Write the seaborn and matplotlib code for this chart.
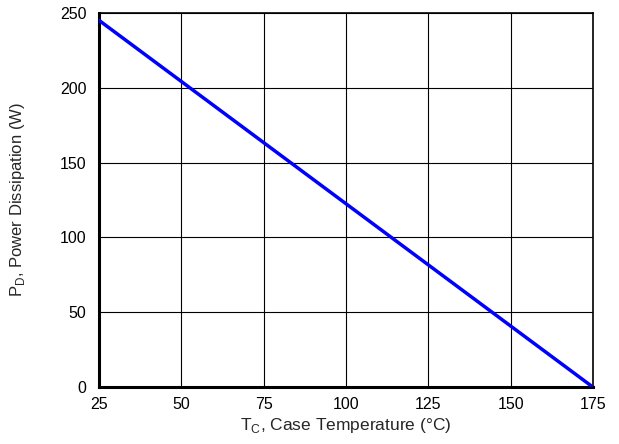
import matplotlib
matplotlib.use("Agg")
import matplotlib.pyplot as plt
import seaborn as sns
import pandas as pd

# power derating curve: dissipation vs case temperature
case_temp = [25, 175]
power_w = [245, 0]
x_ticks = [25, 50, 75, 100, 125, 150, 175]
y_ticks = [0, 50, 100, 150, 200, 250]

sns.set_style("white")
plt.rcParams["font.family"] = ["Liberation Sans", "DejaVu Sans"]
plt.rcParams["mathtext.fontset"] = "custom"
plt.rcParams["mathtext.rm"] = "Liberation Sans"

df = pd.DataFrame({"temp": case_temp, "power": power_w})

fig = plt.figure(figsize=(6.19, 4.44), dpi=100)
ax = fig.add_axes([0.160, 0.128, 0.798, 0.843])

sns.lineplot(data=df, x="temp", y="power", color="#0000ff", linewidth=2.5, ax=ax, zorder=3)

ax.set_xlim(25, 175)
ax.set_ylim(0, 250)
ax.set_xticks(x_ticks)
ax.set_yticks(y_ticks)
ax.grid(True, color="black", linewidth=0.8)
ax.tick_params(axis="x", length=0, labelsize=11.5, pad=7, colors="black")
ax.tick_params(axis="y", length=0, labelsize=11.5, pad=9, colors="black")

for side in ["left", "bottom"]:
    ax.spines[side].set_linewidth(2.2)
for side in ["top", "right"]:
    ax.spines[side].set_linewidth(1.2)
for sp in ax.spines.values():
    sp.set_color("black")
    sp.set_visible(True)

ax.set_xlabel(r"T$_\mathregular{C}$, Case Temperature (°C)", fontsize=12.5)
ax.set_ylabel(r"P$_\mathregular{D}$, Power Dissipation (W)", fontsize=12)
ax.xaxis.set_label_coords(0.5, -0.078)
ax.yaxis.set_label_coords(-0.145, 0.5)

fig.savefig("out.png", dpi=100)
